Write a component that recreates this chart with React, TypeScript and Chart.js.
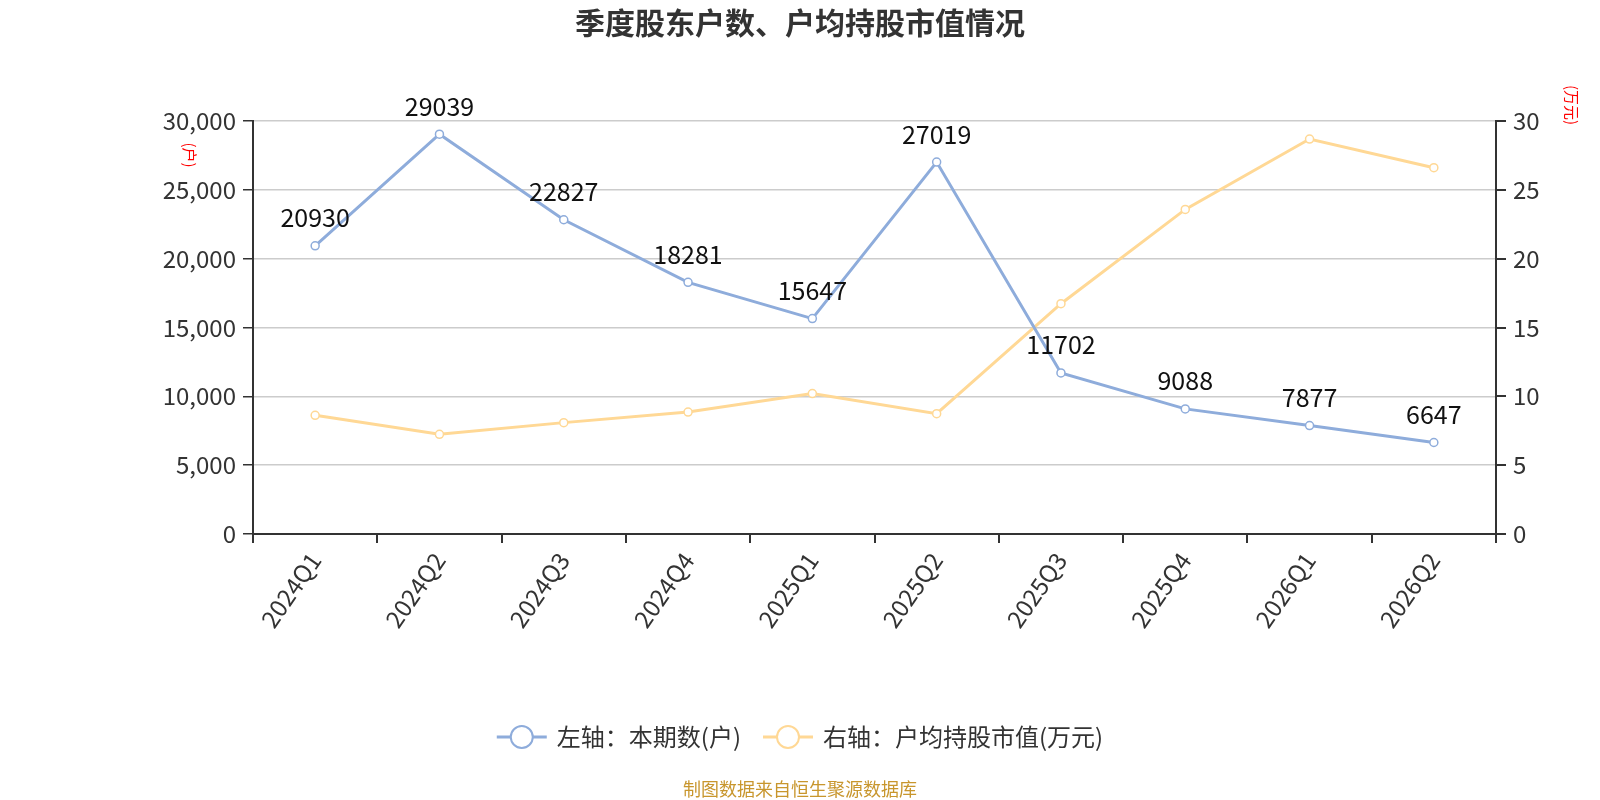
import React, { useEffect, useRef } from 'react'
import { Chart, registerables } from 'chart.js'

Chart.register(...registerables)

const quarters = ['2024Q1', '2024Q2', '2024Q3', '2024Q4', '2025Q1', '2025Q2', '2025Q3', '2025Q4', '2026Q1', '2026Q2']
const holders = [20930, 29039, 22827, 18281, 15647, 27019, 11702, 9088, 7877, 6647]
const avgValue = [8.62, 7.24, 8.09, 8.86, 10.2, 8.74, 16.73, 23.58, 28.69, 26.61]

const titleText = '季度股东户数、户均持股市值情况'
const legendNames = ['左轴：本期数(户)', '右轴：户均持股市值(万元)']
const footerText = '制图数据来自恒生聚源数据库'

const FONT = '"Noto Sans CJK SC", "Noto Sans", sans-serif'
const BLUE = '#8eacdb'
const YELLOW = '#ffd895'

const extras = {
  id: 'extras',
  afterDatasetsDraw(chart: any) {
    const ctx = chart.ctx
    ctx.save()
    // value labels over the blue line
    const meta = chart.getDatasetMeta(0)
    ctx.font = `25px ${FONT}`
    ctx.fillStyle = '#111'
    ctx.textAlign = 'center'
    ctx.textBaseline = 'middle'
    meta.data.forEach((pt: any, i: number) => {
      ctx.fillText(String(holders[i]), pt.x, pt.y - 28)
    })
    ctx.restore()
  },
  afterDraw(chart: any) {
    const ctx = chart.ctx
    const w = chart.width
    ctx.save()

    // title
    ctx.font = `bold 30px ${FONT}`
    ctx.fillStyle = '#333'
    ctx.textAlign = 'center'
    ctx.textBaseline = 'middle'
    ctx.fillText(titleText, w / 2, 23)

    // rotated unit titles
    ctx.font = `15px ${FONT}`
    ctx.fillStyle = '#ff0000'
    const unit = (text: string, x: number, y: number) => {
      ctx.save()
      ctx.translate(x, y)
      ctx.rotate(Math.PI / 2)
      ctx.textAlign = 'center'
      ctx.textBaseline = 'middle'
      ctx.fillText(text, 0, 0)
      ctx.restore()
    }
    unit('(户)', 190, 155)
    unit('(万元)', 1572, 105)

    // legend
    ctx.font = `24px ${FONT}`
    const colors = [BLUE, YELLOW]
    const iconW = 50
    const gap = 10
    const itemGap = 22
    const widths = legendNames.map((n) => iconW + gap + ctx.measureText(n).width)
    const total = widths.reduce((a, b) => a + b, 0) + itemGap
    let x = w / 2 - total / 2
    const ly = 737
    legendNames.forEach((name, i) => {
      ctx.strokeStyle = colors[i]
      ctx.lineWidth = 3
      ctx.beginPath()
      ctx.moveTo(x, ly)
      ctx.lineTo(x + iconW, ly)
      ctx.stroke()
      ctx.beginPath()
      ctx.arc(x + iconW / 2, ly, 11, 0, Math.PI * 2)
      ctx.fillStyle = '#fff'
      ctx.fill()
      ctx.lineWidth = 2
      ctx.stroke()
      ctx.fillStyle = '#333'
      ctx.textAlign = 'left'
      ctx.textBaseline = 'middle'
      ctx.fillText(name, x + iconW + gap, ly)
      x += widths[i] + itemGap
    })

    // footer
    ctx.font = `18px ${FONT}`
    ctx.fillStyle = '#c8962d'
    ctx.textAlign = 'center'
    ctx.textBaseline = 'middle'
    ctx.fillText(footerText, w / 2, 789)
    ctx.restore()
  },
}

const App = () => {
  const chartRef = useRef<HTMLCanvasElement>(null)

  useEffect(() => {
    document.body.style.margin = '0'
    if (!chartRef.current) return
    const ctx = chartRef.current.getContext('2d')
    if (!ctx) return

    const tickFont = { family: FONT, size: 24 }

    const chart = new Chart(ctx, {
      type: 'line',
      data: {
        labels: quarters,
        datasets: [
          {
            label: legendNames[0],
            data: holders,
            yAxisID: 'y',
            borderColor: BLUE,
            backgroundColor: '#fff',
            borderWidth: 3,
            pointRadius: 4,
            pointBorderWidth: 1.5,
            pointBackgroundColor: '#fff',
            pointBorderColor: BLUE,
            tension: 0,
          },
          {
            label: legendNames[1],
            data: avgValue,
            yAxisID: 'y1',
            borderColor: YELLOW,
            backgroundColor: '#fff',
            borderWidth: 3,
            pointRadius: 4,
            pointBorderWidth: 1.5,
            pointBackgroundColor: '#fff',
            pointBorderColor: YELLOW,
            tension: 0,
          },
        ],
      },
      options: {
        animation: false,
        responsive: false,
        maintainAspectRatio: false,
        layout: { padding: { top: 121, left: 0, right: 0, bottom: 0 } },
        plugins: {
          legend: { display: false },
          title: { display: false },
          tooltip: { enabled: false },
        },
        scales: {
          x: {
            offset: true,
            grid: { offset: true, drawOnChartArea: false, drawTicks: true, tickLength: 9, tickColor: '#333', lineWidth: 2 },
            border: { color: '#333', width: 2 },
            ticks: { font: tickFont, color: '#333', minRotation: 55, maxRotation: 55, autoSkip: false, padding: 4 },
            afterFit: (scale: any) => { scale.height = 266 },
          },
          y: {
            position: 'left',
            min: 0,
            max: 30000,
            ticks: {
              stepSize: 5000,
              font: tickFont,
              color: '#333',
              padding: 7,
              callback: (v: any) => Number(v).toLocaleString('en-US'),
            },
            grid: { color: '#cccccc', lineWidth: 1.5, tickLength: 10, tickColor: '#333' },
            border: { color: '#333', width: 2 },
            afterFit: (scale: any) => { scale.width = 253 },
          },
          y1: {
            position: 'right',
            min: 0,
            max: 30,
            ticks: { stepSize: 5, font: tickFont, color: '#333', padding: 7 },
            grid: { drawOnChartArea: false, tickLength: 10, tickColor: '#333', lineWidth: 2 },
            border: { color: '#333', width: 2 },
            afterFit: (scale: any) => { scale.width = 104 },
          },
        },
      },
      plugins: [extras],
    })

    return () => {
      chart.destroy()
    }
  }, [])

  return (
    <div style={{ width: 1600, height: 800 }}>
      <canvas ref={chartRef} width={1600} height={800} style={{ display: 'block' }} />
    </div>
  )
}

export default App
